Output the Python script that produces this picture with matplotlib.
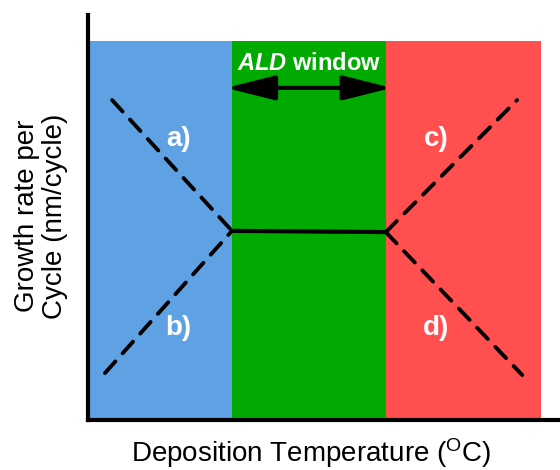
import matplotlib
matplotlib.use("Agg")
import matplotlib.pyplot as plt

plt.rcParams['font.family'] = ['Liberation Sans', 'DejaVu Sans']
plt.rcParams['mathtext.fontset'] = 'custom'
plt.rcParams['mathtext.rm'] = 'Liberation Sans'
plt.rcParams['mathtext.it'] = 'Liberation Sans:italic'
plt.rcParams['mathtext.bf'] = 'Liberation Sans:bold'
plt.rcParams['mathtext.bfit'] = 'Liberation Sans:italic:bold'

# Regions (temperature axis, arbitrary units 0-100)
region_names = ['low', 'window', 'high']
region_start = [0.4, 30.5, 63.1]
region_end = [30.5, 63.1, 96.0]
region_colors = ['#5ea2e4', '#00aa00', '#ff4f4f']
region_top = 93.6

# Growth-rate curves
a_x = [5.1, 30.5]; a_y = [79.0, 46.7]
b_x = [3.6, 30.5]; b_y = [11.6, 46.7]
flat_x = [30.5, 63.1]; flat_y = [46.7, 46.4]
c_x = [63.1, 90.9]; c_y = [46.4, 79.0]
d_x = [63.1, 92.0]; d_y = [46.4, 11.1]

labels = ['a)', 'b)', 'c)', 'd)']
label_x = [19.1, 19.1, 73.7, 73.7]
label_y = [69.4, 22.6, 69.4, 22.6]

arrow_y = 82.0
arrow_ext = 1.3

fig = plt.figure(figsize=(5.6, 4.7), dpi=100)
ax = fig.add_axes([88/560, 50/470, 472/560, 405/470])
ax.set_xlim(0, 100)
ax.set_ylim(0, 100)

for s, e, c in zip(region_start, region_end, region_colors):
    ax.axvspan(s, e, ymin=0, ymax=region_top/100, color=c, lw=0, zorder=0)

dash = dict(color='black', lw=2.8, linestyle=(0, (4, 2.8)), solid_capstyle='round', dash_capstyle='round', zorder=2)
ax.plot(a_x, a_y, **dash)
ax.plot(b_x, b_y, **dash)
ax.plot(c_x, c_y, **dash)
ax.plot(d_x, d_y, **dash)
ax.plot(flat_x, flat_y, color='black', lw=3, zorder=3)

for t, x, y in zip(labels, label_x, label_y):
    ax.text(x, y, t, color='white', fontsize=20, fontweight='bold', ha='center', va='center')

ax.annotate('', xy=(region_start[1] - arrow_ext, arrow_y), xytext=(region_end[1] + arrow_ext, arrow_y),
            arrowprops=dict(arrowstyle='<|-|>,head_length=3.0,head_width=0.75', color='black', lw=3,
                            shrinkA=0, shrinkB=0))
ax.text((region_start[1] + region_end[1]) / 2, 88.0, r'$\mathbfit{ALD}$ window',
        color='white', fontsize=17, fontweight='bold', ha='center', va='center')

for sp in ['top', 'right']:
    ax.spines[sp].set_visible(False)
for sp in ['left', 'bottom']:
    ax.spines[sp].set_linewidth(3)
ax.set_xticks([])
ax.set_yticks([])

fig.text(311.5/560, 1 - 453/470, r'Deposition Temperature ($^{\mathrm{O}}$C)', fontsize=20,
         ha='center', va='center')
fig.text(41/560, 1 - 216/470, 'Growth rate per\nCycle (nm/cycle)', fontsize=20,
         rotation=90, ha='center', va='center', linespacing=1.1)

fig.savefig('out.png', dpi=100)
